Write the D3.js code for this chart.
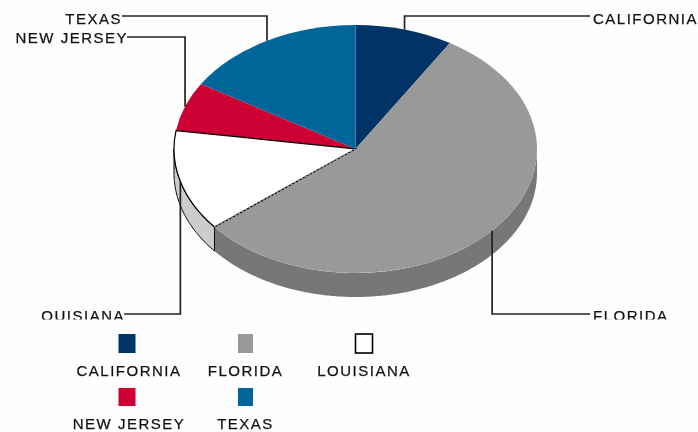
<!DOCTYPE html>
<html>
<head>
<meta charset="utf-8">
<script src="https://cdn.jsdelivr.net/npm/d3@7"></script>
<style>
  html, body { margin: 0; padding: 0; background: #fefefe; }
  svg { display: block; filter: blur(0.5px); }
  text { font-family: "Liberation Sans", Arial, sans-serif; font-size: 15px; letter-spacing: 1.5px; fill: #111; stroke: #111; stroke-width: 0.25px; }
</style>
</head>
<body>
<div id="chart"></div>
<script>
// values (share of the pie, percent)
var states = ["CALIFORNIA", "FLORIDA", "LOUISIANA", "NEW JERSEY", "TEXAS"];
var shares = [8.7, 55.4, 13.2, 6.4, 16.2];
var topColors = ["#003366", "#999999", "#ffffff", "#cc0033", "#006699"];
var sideColors = ["#002244", "#777777", "#cccccc", "#88002a", "#004466"];

var width = 698, height = 432;
var cx = 355.5, cy = 149, rx = 181.5, ry = 124, depth = 24;

var svg = d3.select("#chart")
  .append("svg")
  .attr("width", width)
  .attr("height", height);

var defs = svg.append("defs");
defs.append("clipPath").attr("id", "clipLouisiana")
  .append("rect").attr("x", 41).attr("y", 300).attr("width", 100).attr("height", 19.5);
defs.append("clipPath").attr("id", "clipFlorida")
  .append("rect").attr("x", 585).attr("y", 300).attr("width", 100).attr("height", 19.5);

var pie = d3.pie().sort(null).value(function (d) { return d; });
var slices = pie(shares);

function px(a) { return rx * Math.sin(a); }
function py(a) { return -ry * Math.cos(a); }

// side wall of the pie, only the part that faces the viewer
var wall = d3.area()
  .x(function (a) { return cx + px(a); })
  .y0(function (a) { return cy + py(a); })
  .y1(function (a) { return cy + py(a) + depth; });

slices.forEach(function (s, i) {
  var from = Math.max(s.startAngle, Math.PI / 2);
  var to = Math.min(s.endAngle, Math.PI * 3 / 2);
  if (to <= from) return;
  svg.append("path")
    .attr("d", wall(d3.range(from, to, 0.01).concat([to])))
    .attr("fill", sideColors[i])
    .attr("stroke", i === 2 ? "#000" : "none")
    .attr("stroke-width", 1);
});

// top face: circular arc squashed into an ellipse
var arc = d3.arc().innerRadius(0).outerRadius(rx);
var topFace = svg.append("g")
  .attr("transform", "translate(" + cx + "," + cy + ") scale(1," + (ry / rx) + ")");

// white slice last so its black outline stays on top
[0, 1, 3, 4, 2].forEach(function (i) {
  topFace.append("path")
    .attr("d", arc(slices[i]))
    .attr("fill", topColors[i])
    .attr("stroke", i === 2 ? "#000" : "none")
    .attr("stroke-width", 1.2)
    .attr("vector-effect", "non-scaling-stroke");
});

// the edge against the grey slice is dotted in the picture
var white = slices[2];
svg.append("line")
  .attr("x1", cx)
  .attr("y1", cy)
  .attr("x2", cx + px(white.startAngle))
  .attr("y2", cy + py(white.startAngle))
  .attr("stroke", "#999999")
  .attr("stroke-width", 1.6)
  .attr("stroke-dasharray", "2,2");

// leader lines start at the middle of each slice
var leaders = [
  { elbowY: 16, endX: 590 },
  { elbowY: 314, endX: 590 },
  { elbowY: 314, endX: 124 },
  { elbowY: 37, endX: 127 },
  { elbowY: 16, endX: 122 }
];
var labelPos = [
  { x: 593, y: 24, anchor: "start" },
  { x: 593, y: 321, anchor: "start", clip: "clipFlorida" },
  { x: 125, y: 321, anchor: "end", clip: "clipLouisiana" },
  { x: 128, y: 43, anchor: "end" },
  { x: 122, y: 24, anchor: "end" }
];

slices.forEach(function (s, i) {
  var mid = (s.startAngle + s.endAngle) / 2;
  var x = cx + px(mid), y = cy + py(mid);
  svg.append("path")
    .attr("d", d3.line()([[x, y], [x, leaders[i].elbowY], [leaders[i].endX, leaders[i].elbowY]]))
    .attr("fill", "none")
    .attr("stroke", "#222")
    .attr("stroke-width", 1.7);

  svg.append("text")
    .attr("x", labelPos[i].x)
    .attr("y", labelPos[i].y)
    .attr("text-anchor", labelPos[i].anchor)
    .attr("clip-path", labelPos[i].clip ? "url(#" + labelPos[i].clip + ")" : null)
    .text(states[i]);
});

// legend, three columns
var legendX = d3.scalePoint().domain([0, 1, 2]).range([127, 364]);
var legendY = d3.scalePoint().domain([0, 1]).range([334, 388]);

states.forEach(function (name, i) {
  var col = i % 3, row = Math.floor(i / 3);
  var w = col === 1 ? 15 : 17;
  svg.append("rect")
    .attr("x", legendX(col) - w / 2)
    .attr("y", legendY(row))
    .attr("width", w)
    .attr("height", row === 0 ? 19 : 18)
    .attr("fill", topColors[i])
    .attr("stroke", i === 2 ? "#000" : "none")
    .attr("stroke-width", 1.6);
  svg.append("text")
    .attr("x", legendX(col) + (col === 0 ? 2 : 0))
    .attr("y", legendY(row) + (row === 0 ? 42 : 41))
    .attr("text-anchor", "middle")
    .text(name);
});
</script>
</body>
</html>
